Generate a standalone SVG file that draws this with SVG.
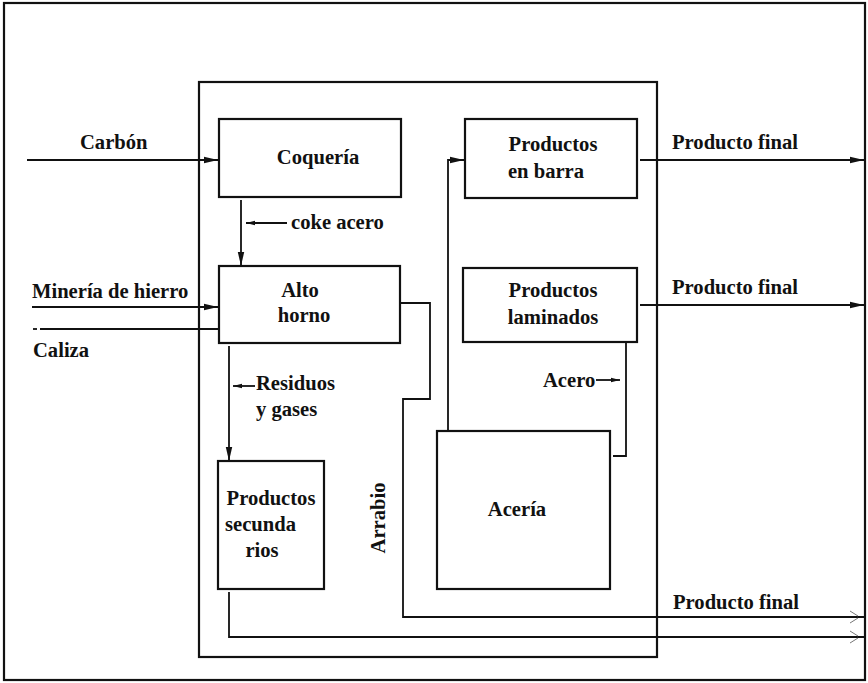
<svg xmlns="http://www.w3.org/2000/svg" width="868" height="683" viewBox="0 0 868 683">
<style>
.box{fill:none;stroke:#111;stroke-width:2.2}
.ln{fill:none;stroke:#111;stroke-width:1.8}
.t{font-family:"Liberation Serif","Times New Roman",serif;font-weight:bold;font-size:20.6px;fill:#111}
.m{text-anchor:middle}
</style>
<defs>
<marker id="ah" markerUnits="userSpaceOnUse" markerWidth="14" markerHeight="8" refX="14" refY="4" orient="auto">
<path d="M0,0.8 L14,4 L0,7.2 z" fill="#111"/>
</marker>
<marker id="sm" markerUnits="userSpaceOnUse" markerWidth="9" markerHeight="6" refX="9" refY="3" orient="auto">
<path d="M0,0.8 L9,3 L0,5.2 z" fill="#111"/>
</marker>
</defs>
<rect x="0" y="0" width="868" height="683" fill="#fff"/>
<g id="frame">
<rect class="box" x="4" y="3" width="861" height="677"/>
<rect class="box" x="199" y="82" width="458" height="575"/>
</g>
<g id="connectors">
<path class="ln" d="M27,160 H218" marker-end="url(#ah)"/>
<path class="ln" d="M32,307 H218" marker-end="url(#ah)"/>
<path class="ln" d="M40,329 H219"/>
<path class="ln" d="M33,329 H37"/>
<path class="ln" d="M241,200 V266" marker-end="url(#ah)"/>
<path class="ln" d="M287,223 H246" marker-end="url(#sm)"/>
<path class="ln" d="M229,346 V461" marker-end="url(#ah)"/>
<path class="ln" d="M255,386 H233" marker-end="url(#sm)"/>
<path class="ln" d="M400,303 H430 V399 H403 V617 H865"/>
<path class="ln" d="M229,592 V637 H865"/>
<path class="ln" d="M448,430 V160 H464" marker-end="url(#ah)"/>
<path class="ln" d="M626,342 V456 H613"/>
<path class="ln" d="M596,380 H620" marker-end="url(#sm)"/>
<path class="ln" d="M640,160 H864" marker-end="url(#ah)"/>
<path class="ln" d="M640,305 H864" marker-end="url(#ah)"/>
<path d="M850,611 L858,616 M850,623 L858,618 M850,631 L858,636 M850,643 L858,638" fill="none" stroke="#777" stroke-width="1"/>
</g>
<g id="labels">
<text class="t" x="80" y="149">Carbón</text>
<text class="t" x="32" y="298">Minería de hierro</text>
<text class="t" x="33" y="357">Caliza</text>
<text class="t" x="291" y="229">coke acero</text>
<text class="t" x="256" y="390">Residuos</text>
<text class="t" x="256" y="416">y gases</text>
<text class="t" x="543" y="387">Acero</text>
<text class="t m" transform="translate(385,518) rotate(-90)">Arrabio</text>
<text class="t" x="672" y="149">Producto final</text>
<text class="t" x="672" y="294">Producto final</text>
<text class="t" x="673" y="609">Producto final</text>
</g>
<g id="coqueria">
<rect class="box" x="219" y="119" width="182" height="78"/>
<text class="t m" x="318" y="164">Coquería</text>
</g>
<g id="alto-horno">
<rect class="box" x="219" y="266" width="181" height="77"/>
<text class="t m" x="300" y="297">Alto</text>
<text class="t m" x="304" y="322">horno</text>
</g>
<g id="productos-secundarios">
<rect class="box" x="218" y="461" width="106" height="128"/>
<text class="t m" x="271" y="505">Productos</text>
<text class="t" x="225" y="531">secunda</text>
<text class="t m" x="262" y="557">rios</text>
</g>
<g id="productos-barra">
<rect class="box" x="465" y="119" width="172" height="79"/>
<text class="t m" x="553" y="151">Productos</text>
<text class="t m" x="546" y="178">en barra</text>
</g>
<g id="productos-laminados">
<rect class="box" x="463" y="268" width="174" height="74"/>
<text class="t m" x="553" y="297">Productos</text>
<text class="t m" x="553" y="324">laminados</text>
</g>
<g id="aceria">
<rect class="box" x="437" y="431" width="173" height="158"/>
<text class="t m" x="517" y="516">Acería</text>
</g>
</svg>
